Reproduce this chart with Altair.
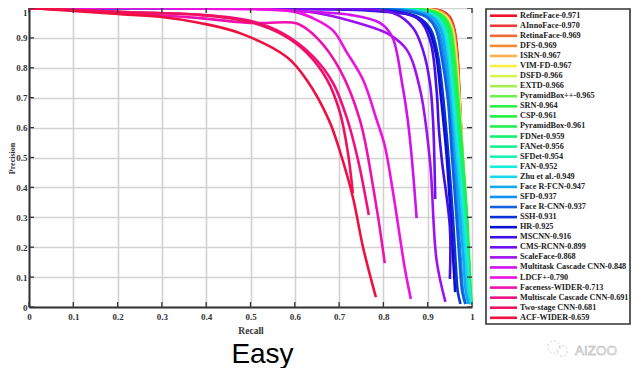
import altair as alt
import pandas as pd

# Precision levels shared by the high-performing detectors
P = [1, 0.998, 0.99, 0.97, 0.93, 0.85, 0.7, 0.5, 0.3, 0.15, 0.05, 0.01]
PH = [1, 0.998, 0.99, 0.97, 0.93, 0.85, 0.7, 0.5, 0.3, 0.15, 0.05]

names = ["RefineFace-0.971", "AInnoFace-0.970", "RetinaFace-0.969", "DFS-0.969", "ISRN-0.967",
         "VIM-FD-0.967", "DSFD-0.966", "EXTD-0.966", "PyramidBox++-0.965", "SRN-0.964",
         "CSP-0.961", "PyramidBox-0.961", "FDNet-0.959", "FANet-0.956", "SFDet-0.954",
         "FAN-0.952", "Zhu et al.-0.949", "Face R-FCN-0.947", "SFD-0.937", "Face R-CNN-0.937",
         "SSH-0.931", "HR-0.925", "MSCNN-0.916", "CMS-RCNN-0.899", "ScaleFace-0.868",
         "Multitask Cascade CNN-0.848", "LDCF+-0.790", "Faceness-WIDER-0.713",
         "Multiscale Cascade CNN-0.691", "Two-stage CNN-0.681", "ACF-WIDER-0.659"]
colors = ["#f0102a", "#ee3a3a", "#ee6a30", "#f58a35", "#fab050", "#fbee45", "#d4f550", "#a5f050",
          "#70f050", "#30f040", "#20f040", "#20f050", "#15f070", "#15f090", "#20f0b5", "#15eedd",
          "#18d5ee", "#18a8f0", "#1090f0", "#1060e0", "#0a30d8", "#0a10d0", "#4010e0", "#7010f0",
          "#a010f0", "#d010f0", "#f010e0", "#f010b0", "#f01080", "#f01060", "#f01040"]

R_refine = [0, .87, .932, .95, .96, .967, .972, .977, .984, .989, .993, .997]
R_ainno = [0, .86, .93, .948, .959, .966, .972, .978, .985, .99, .994, .998]
R_retina = [0, .85, .928, .946, .958, .965, .972, .978, .986, .99, .994, .998]
R_dfs = [0, .85, .925, .945, .957, .965, .972, .979, .986, .991, .995, .998]
R_isrn = [0, .84, .92, .943, .956, .964, .971, .979, .987, .991, .995, .998]
R_vim = [0, .84, .92, .942, .955, .963, .971, .979, .987, .992, .995, .998]
R_dsfd = [0, .83, .915, .94, .954, .962, .97, .979, .987, .992, .996, .999]
R_extd = [0, .83, .915, .939, .953, .961, .969, .979, .988, .992, .996, .999]
R_pbpp = [0, .82, .91, .937, .952, .96, .969, .979, .988, .993, .996, .999]
R_srn = [0, .82, .91, .936, .951, .959, .968, .979, .989, .994, .997, .999]
R_csp = [0, .81, .905, .932, .948, .956, .966, .977, .988, .993, .997, .999]
R_pb = [0, .80, .90, .93, .947, .955, .965, .976, .987, .993, .996, .999]
R_fdnet = [0, .79, .895, .927, .944, .953, .963, .975, .986, .992, .996, .999]
R_fanet = [0, .78, .89, .923, .941, .95, .96, .972, .984, .991, .995, .998]
R_sfdet = [0, .77, .885, .92, .938, .948, .958, .97, .982, .99, .994, .998]
R_fan = [0, .76, .88, .917, .936, .946, .956, .968, .98, .988, .993, .997]
R_zhu = [0, .75, .875, .914, .933, .943, .953, .965, .977, .985, .99, .995]
R_rfcn = [0, .74, .87, .91, .929, .94, .95, .961, .973, .981, .986, .992]
R_sfd = [0, .72, .86, .902, .923, .935, .947, .958, .968, .975, .98, .986]
R_rcnn = [0, .70, .85, .897, .918, .93, .945, .955, .965, .972, .978, .985]
R_ssh = [0, .64, .82, .877, .906, .922, .935, .947, .957, .963, .968, .974]
R_hr = [0, .62, .81, .872, .901, .918, .93, .943, .952, .958, .962]

R_mscnn = [0, .55, .78, .876, .905, .92, .925, .932, .95, .95]
P_mscnn = [1, .998, .99, .966, .893, .726, .6, .49, .267, .094]
R_cms = [0, .6, .822, .867, .889, .905, .912, .917]
P_cms = [1, .998, .983, .933, .86, .75, .625, .361]
R_scale = [0, .5, .65, .792, .815, .853, .883, .905, .92, .94]
P_scale = [1, .998, .983, .926, .91, .86, .726, .49, .157, .017]
R_multi = [0, .5, .6, .725, .792, .82, .842, .855, .864, .875]
P_multi = [1, .998, .99, .977, .95, .903, .75, .625, .5, .297]
R_ldcf = [0, .4, .6, .641, .686, .718, .754, .785, .803, .822, .849, .862]
P_ldcf = [1, .998, .987, .966, .925, .85, .76, .625, .54, .381, .124, .027]
R_faceness = [0, .2, .386, .499, .537, .605, .65, .702, .747, .777, .803]
P_faceness = [1, .985, .966, .95, .95, .948, .90, .793, .625, .40, .147]
R_mscale = [0, .2, .386, .499, .573, .64, .686, .718, .743, .767]
P_mscale = [1, .987, .977, .957, .915, .84, .75, .63, .49, .308]
R_two = [0, .2, .386, .499, .573, .627, .673, .702, .72, .731]
P_two = [1, .987, .977, .953, .91, .85, .76, .65, .515, .381]
R_acf = [0, .1, .2, .3, .386, .476, .582, .627, .677, .702, .731, .754, .783]
P_acf = [1, .99, .98, .97, .95, .916, .836, .759, .625, .52, .368, .2, .033]

curves = [R_refine, R_ainno, R_retina, R_dfs, R_isrn, R_vim, R_dsfd, R_extd, R_pbpp, R_srn, R_csp,
          R_pb, R_fdnet, R_fanet, R_sfdet, R_fan, R_zhu, R_rfcn, R_sfd, R_rcnn, R_ssh, R_hr]
precisions = [P] * 21 + [PH]
curves += [R_mscnn, R_cms, R_scale, R_multi, R_ldcf, R_faceness, R_mscale, R_two, R_acf]
precisions += [P_mscnn, P_cms, P_scale, P_multi, P_ldcf, P_faceness, P_mscale, P_two, P_acf]

rows = []
for name, rs, ps in zip(names, curves, precisions):
    for i, (r, p) in enumerate(zip(rs, ps)):
        rows.append({"name": name, "i": i, "recall": r, "precision": p})
df = pd.DataFrame(rows)
ticks = [round(v / 10, 1) for v in range(11)]
tick_df = pd.DataFrame({"t": ticks})
legend_df = pd.DataFrame({"name": names})

FONT = "Liberation Serif"
INK = "#333333"
W, H = 443, 299

xs = alt.Scale(domain=[0, 1], nice=False)
ys = alt.Scale(domain=[0, 1], nice=False)
color = alt.Color("name:N", scale=alt.Scale(domain=names, range=colors), legend=None)

grid_x = alt.Axis(values=ticks, format="~g", grid=True, gridColor="#d2d2d2", gridWidth=1.6, ticks=False,
                  domainColor=INK, domainWidth=2, labelFont=FONT, labelFontWeight="bold", labelFontSize=9,
                  labelColor=INK, labelPadding=5, labelOverlap=False, labelFlush=False,
                  title="Recall", titleFont=FONT, titleFontWeight="bold", titleFontSize=9.5,
                  titleColor=INK, titlePadding=4)
grid_y = alt.Axis(values=ticks, format="~g", grid=True, gridColor="#d2d2d2", gridWidth=1.6, ticks=False,
                  domainColor=INK, domainWidth=2, labelFont=FONT, labelFontWeight="bold", labelFontSize=9,
                  labelColor=INK, labelPadding=2, labelOverlap=False, labelFlush=False,
                  labelBaseline={"condition": {"test": "datum.value == 1", "value": "top"}, "value": "middle"},
                  title="Precision", titleFont=FONT, titleFontWeight="bold", titleFontSize=8,
                  titleColor=INK, titleX=-12.5, titleY=150, titleAngle=270)

lines = alt.Chart(df).mark_line(strokeWidth=2.6, interpolate="catmull-rom").encode(
    x=alt.X("recall:Q", scale=xs, axis=grid_x),
    y=alt.Y("precision:Q", scale=ys, axis=grid_y),
    color=color, order="i:Q")

tick_base = alt.Chart(tick_df).mark_rule(color=INK, strokeWidth=1.3)
tick_group = alt.layer(
    tick_base.encode(x=alt.X("t:Q", scale=xs, axis=None), y=alt.value(H - 5), y2=alt.value(H)),
    tick_base.encode(x=alt.X("t:Q", scale=xs, axis=None), y=alt.value(0), y2=alt.value(5)),
    tick_base.encode(y=alt.Y("t:Q", scale=ys, axis=None), x=alt.value(0), x2=alt.value(5)),
    tick_base.encode(y=alt.Y("t:Q", scale=ys, axis=None), x=alt.value(W - 5), x2=alt.value(W)),
).resolve_scale(x="independent", y="independent")

ly = alt.Y("name:N", sort=names, axis=None, scale=alt.Scale(type="point", range=[7.7, 309.8], padding=0))
box = alt.Chart(pd.DataFrame({"a": [0]})).mark_rect(fill="white", stroke=INK, strokeWidth=1.6).encode(
    x=alt.value(457), x2=alt.value(601), y=alt.value(1), y2=alt.value(316))
swatch = alt.Chart(legend_df).mark_rule(strokeWidth=2.6).encode(
    x=alt.value(461), x2=alt.value(488), y=ly, color=color)
label = alt.Chart(legend_df).mark_text(align="left", baseline="middle", font=FONT, fontWeight="bold",
                                       fontSize=8.2, color="#222222").encode(
    x=alt.value(491), y=ly, text="name:N")
legend = alt.layer(box, swatch, label).resolve_scale(y="shared")

easy = alt.Chart(pd.DataFrame({"s": ["Easy"]})).mark_text(
    align="center", baseline="alphabetic", font="Liberation Sans", fontSize=28, color="black").encode(
    x=alt.value(233.5), y=alt.value(355), text="s:N")
brand = alt.Chart(pd.DataFrame({"s": ["AIZOO"]})).mark_text(
    align="left", baseline="alphabetic", font="Liberation Sans", fontSize=13.5, fill="#ffffff",
    stroke="#a8a8a8", strokeWidth=0.5).encode(
    x=alt.value(546), y=alt.value(347), text="s:N")
icon1 = alt.Chart(pd.DataFrame({"a": [0]})).mark_point(
    shape="circle", size=150, stroke="#b5b5b5", strokeWidth=0.9, strokeDash=[2, 2], filled=False).encode(
    x=alt.value(525), y=alt.value(339))
icon2 = alt.Chart(pd.DataFrame({"a": [0]})).mark_point(
    shape="circle", size=110, stroke="#b5b5b5", strokeWidth=0.9, strokeDash=[2, 2], filled=False).encode(
    x=alt.value(533), y=alt.value(343))

chart = alt.layer(lines, tick_group, legend, easy, icon1, icon2, brand).resolve_scale(
    x="independent", y="independent"
).resolve_axis(x="independent", y="independent").properties(
    width=W, height=H,
    autosize=alt.AutoSizeParams(type="none"),
    padding={"left": 21, "top": 0, "right": 159, "bottom": 61},
).configure_view(stroke=INK, strokeWidth=1.6).configure(background="white")

chart.save("out.html", embed_options={"renderer": "svg", "actions": False})
